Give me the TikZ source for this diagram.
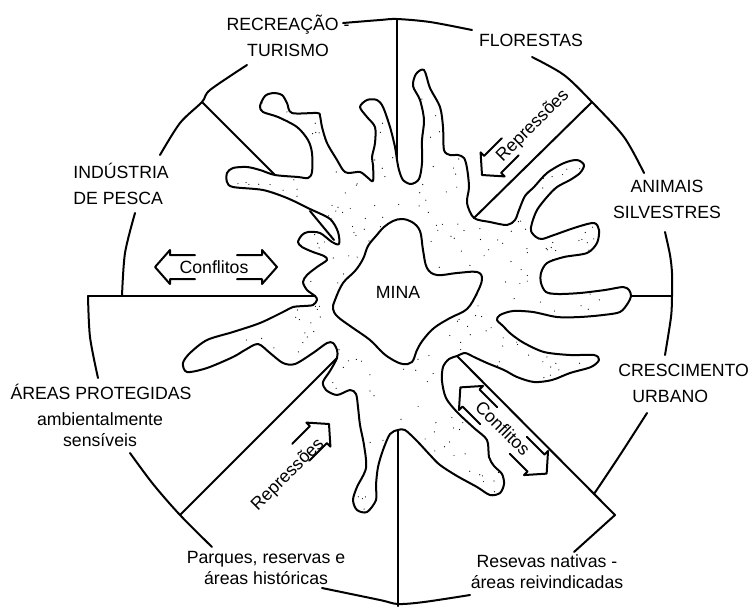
\documentclass[tikz,border=0pt]{standalone}
\usepackage{fontspec}
\setmainfont{Liberation Sans}

% outline of the worked area round the mine
\newcommand{\outerblob}{plot[smooth cycle, tension=0.5] coordinates {
  (397,160) (399,170) (403,180) (411,184) (419,179) (422,163) (422,140) (424,120)
  (420,100) (413,86) (416,74) (424,70) (430,88) (440,107) (443,127) (444,150)
  (450,155) (458,155) (464,158) (467,168) (469,187) (467,203) (474,218) (490,222)
  (507,225) (515,220) (519,210) (525,196) (534,187) (547,173) (564,163) (577,160)
  (584,165) (580,173) (570,180) (557,187) (547,197) (537,210) (532,223) (531,231)
  (536,237) (542,239) (554,235) (577,227) (594,223) (599,230) (597,243) (587,253)
  (564,257) (547,263) (541,273) (541,283) (546,292) (558,294) (580,293) (605,290)
  (623,287) (629,290) (631,296) (628,303) (620,312) (603,315) (580,317) (557,317)
  (533,312) (513,311) (500,315) (497,320) (503,326) (511,334) (524,343) (544,352)
  (570,355) (594,355) (599,360) (591,367) (570,373) (552,380) (534,382) (517,377)
  (504,370) (487,363) (474,357) (465,353) (457,356) (449,359) (443,367) (442,381)
  (446,398) (457,412) (474,428) (487,440) (489,457) (494,466) (502,474) (504,484)
  (500,493) (490,495) (477,487) (457,476) (440,465) (430,455) (417,441) (405,430)
  (398,430) (390,434) (383,450) (378,467) (376,485) (376,500) (367,512) (357,510)
  (353,500) (357,487) (366,468) (364,445) (360,425) (358,407) (356,394) (350,390)
  (337,395) (326,390) (323,382) (330,371) (337,358) (337,350) (333,343) (327,343)
  (313,353) (295,364) (283,363) (270,353) (258,344) (245,350) (233,357) (207,368)
  (187,372) (183,363) (190,353) (207,340) (233,332) (260,323) (283,312) (293,307)
  (304,306) (313,305) (317,300) (315,296) (307,290) (303,282) (307,275) (317,267)
  (327,260) (324,256) (313,252) (302,247) (298,242) (302,235) (308,232) (320,233)
  (332,242) (339,244) (338,232) (330,219) (310,209) (287,198) (263,190) (233,187)
  (227,182) (227,173) (233,168) (247,167) (260,170) (275,175) (298,177) (308,178)
  (312,172) (312,153) (308,140) (297,127) (278,117) (263,112) (260,106) (265,96)
  (273,93) (282,95) (287,103) (292,113) (317,113) (320,116) (322,127) (327,143)
  (337,160) (343,170) (348,173) (360,172) (367,177) (373,181) (373,165) (372,157)
  (375,143) (375,127) (367,117) (360,107) (367,100) (377,100) (383,107) (390,127)
  (395,147)}}
% the pit itself
\newcommand{\minablob}{plot[smooth cycle, tension=0.6] coordinates {
  (393,221) (402,219) (412,222) (420,231) (423,250) (427,268) (437,275) (457,273)
  (477,272) (482,279) (477,293) (467,309) (450,318) (434,328) (423,340) (417,350)
  (412,362) (403,364) (393,360) (383,353) (370,340) (353,328) (338,317) (333,309)
  (335,300) (343,283) (355,271) (363,259) (368,246) (376,236) (384,227)}}
% open arrow outlines, text sits in the gap of the shaft
\newcommand{\dblarrow}{(21,-12) -- (46,-12) -- (46,-17) -- (61,0) -- (46,17) -- (46,12) -- (21,12)
  (-21,-12) -- (-46,-12) -- (-46,-17) -- (-61,0) -- (-46,17) -- (-46,12) -- (-21,12)}
\newcommand{\sglarrow}{(40,-12) -- (15,-12) -- (15,-17) -- (0,0) -- (15,17) -- (15,12) -- (40,12)}

\begin{document}
\begin{tikzpicture}[x=0.5pt, y=-0.5pt,
  trace/.style={line width=1pt, line join=round, line cap=round},
  lbl/.style={font=\fontsize{8.85}{13}\selectfont, align=center, inner sep=0pt},
  lbls/.style={font=\fontsize{8.85}{10.5}\selectfont, align=center, inner sep=0pt}]
  \useasboundingbox (0,0) rectangle (754,606);

  % stippled ground
  \begin{scope}
    \clip \outerblob;
    \pgfmathsetseed{42}
    \foreach \k in {1,...,700}
      \fill ({220+380*rnd},{60+460*rnd}) circle (0.3pt);
  \end{scope}
  \fill[white] \minablob;
  \draw[trace] \outerblob;
  \draw[trace] \minablob;
  \draw[trace] (310,211) -- (334,240);

  % sector lines
  \draw[trace] (397,19) -- (397,160);
  \draw[trace] (398,430) -- (398,606);
  \draw[trace] (88,296) -- (315,296);
  \draw[trace] (631,296) -- (672,296);
  \draw[trace] (202,102) -- (275,175);
  \draw[trace] (592,102) -- (474,218);
  \draw[trace] (180,515) -- (337,358);
  \draw[trace] (457,356) -- (615,515) -- (574,552);

  % outer ring, broken by the labels
  \draw[trace] plot[smooth] coordinates {(343,23) (380,20) (397,19) (430,22) (472,30)};
  \draw[trace] plot[smooth] coordinates {(532,57) (564,75) (592,102) (624,137) (644,173)};
  \draw[trace] plot[smooth] coordinates {(665,232) (670,255) (672,273) (672,296) (671,317) (665,355)};
  \draw[trace] plot[smooth] coordinates {(647,413) (620,455) (594,494)};
  \draw[trace] plot[smooth] coordinates {(322,588) (380,600) (398,604) (424,602) (470,595)};
  \draw[trace] plot[smooth] coordinates {(130,453) (153,484) (180,515) (212,547)};
  \draw[trace] plot[smooth] coordinates {(88,296) (90,337) (98,378)};
  \draw[trace] plot[smooth] coordinates {(135,213) (125,253) (122,296)};
  \draw[trace] plot[smooth] coordinates {(160,155) (180,123) (202,102) (210,90) (247,65)};

  % labels
  \node[lbl] (rec) at (288,35.5) {RECREAÇÃO -\\TURISMO};
  \node[lbl] (flor) at (531,40) {FLORESTAS};
  \node[lbl] (anim) at (667,199) {ANIMAIS\\SILVESTRES};
  \node[lbl, align=left, anchor=west] (pesca) at (73,183.5) {INDÚSTRIA\\DE PESCA};
  \node[lbl, align=left, anchor=west] (cresc) at (618,383.5) {CRESCIMENTO\\\hspace*{7pt}URBANO};
  \node[lbl] (areas) at (101,392) {ÁREAS PROTEGIDAS};
  \node[lbls] (amb) at (100,430) {ambientalmente\\sensíveis};
  \node[lbls] (parq) at (266,567.5) {Parques, reservas e\\áreas históricas};
  \node[lbls] (resv) at (547,572) {Resevas nativas -\\áreas reivindicadas};
  \node[lbl] (mina) at (398,292) {MINA};

  % conflicts and repressions
  \node[lbl] (confl) at (214,267) {Conflitos};
  \draw[trace, shift={(216,267)}] \dblarrow;
  \node[lbl, rotate=-45] (confr) at (503,428) {Conflitos};
  \draw[trace, shift={(503.5,430.5)}, rotate=-45] \dblarrow;
  \node[lbl, rotate=45] (repr) at (533,126) {Repressões};
  \draw[trace, shift={(482,175)}, rotate=45] \sglarrow;
  \node[lbl, rotate=45] (repl) at (288,475) {Repressões};
  \draw[trace, shift={(329,424)}, rotate=225] \sglarrow;
\end{tikzpicture}
\end{document}
